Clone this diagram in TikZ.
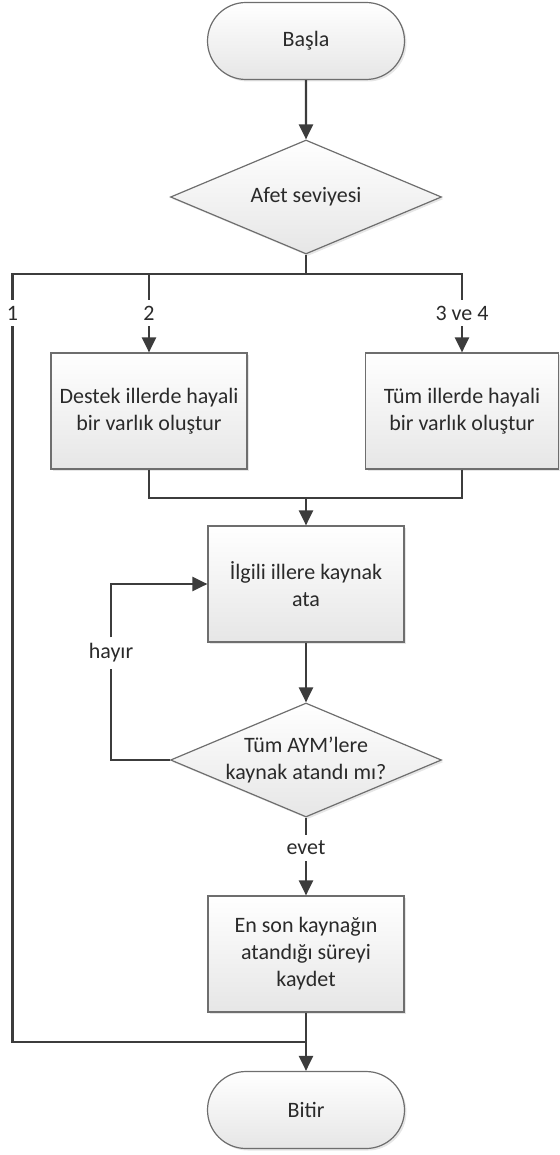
\documentclass[tikz,border=0pt]{standalone}
\usepackage{fontspec}
\setmainfont{Carlito}
\usetikzlibrary{shapes.geometric,shapes.misc,arrows.meta,shadows}
\definecolor{boxborder}{HTML}{6E6E6E}
\definecolor{boxfill}{HTML}{E6E6E6}
\definecolor{linec}{HTML}{3C3C3C}
\definecolor{txt}{HTML}{2A2A2A}
\tikzset{
  base/.style={draw=boxborder, line width=1.2pt, top color=white, bottom color=boxfill,
    drop shadow={opacity=0.2, shadow xshift=2pt, shadow yshift=-2pt},
    text=txt, font=\fontsize{22}{27}\selectfont, align=center, inner sep=0pt},
  term/.style={base, rounded rectangle, minimum width=197pt, minimum height=77pt},
  proc/.style={base, rectangle, minimum width=196pt, minimum height=116pt},
  dec/.style={base, diamond, minimum width=271pt, minimum height=114pt},
  lbl/.style={text=txt, font=\fontsize{22}{27}\selectfont, align=center, inner xsep=2pt, inner ysep=6pt},
  conn/.style={draw=linec, line width=2.3pt},
  arr/.style={conn, -{Triangle[width=14pt,length=15pt]}},
}
\begin{document}
\begin{tikzpicture}[x=1pt,y=-1pt]
\useasboundingbox (0,0) rectangle (559,1155);
% nodes
\node[term] (start) at (306,41) {Başla};
\node[dec, label={[lbl]center:Afet seviyesi}] (d1) at (306,197) {};
\node[lbl] (lab1) at (12.5,313) {1};
\node[lbl] (lab2) at (149,313) {2};
\node[lbl] (lab3) at (462,313) {3 ve 4};
\node[proc] (p1) at (149,411) {Destek illerde hayali\\bir varlık oluştur};
\node[proc, minimum width=193pt] (p2) at (462,411) {Tüm illerde hayali\\bir varlık oluştur};
\node[proc] (pI) at (306,584) {İlgili illere kaynak\\ata};
\node[dec, label={[lbl, inner sep=0pt]center:Tüm AYM’lere\\kaynak atandı mı?}] (d2) at (306,760) {};
\node[lbl] (labh) at (111,653) {hayır};
\node[lbl] (labe) at (306,848) {evet};
\node[proc] (p3) at (306,954) {En son kaynağın\\atandığı süreyi\\kaydet};
\node[term] (end) at (306,1110) {Bitir};
\coordinate (j) at (306,274);
\coordinate (j2) at (306,498);
\coordinate (m) at (306,1042);
% connectors
\draw[arr] (start) -- (d1);
\draw[conn] (d1.south) -- (j) -| (lab1.north);
\draw[conn] (j) -| (lab3.north);
\draw[conn] (j) -| (lab2.north);
\draw[arr] (lab2.south) -- (p1.north);
\draw[arr] (lab3.south) -- (p2.north);
\draw[conn] (p1.south) |- (j2);
\draw[conn] (p2.south) |- (j2);
\draw[arr] (j2) -- (pI.north);
\draw[arr] (pI.south) -- (d2.north);
\draw[conn] (d2.west) -| (labh.south);
\draw[arr] (labh.north) |- (pI.west);
\draw[conn] (d2.south) -- (labe.north);
\draw[arr] (labe.south) -- (p3.north);
\draw[conn] (lab1.south) |- (m);
\draw[arr] (p3.south) -- (end.north);
\end{tikzpicture}
\end{document}
